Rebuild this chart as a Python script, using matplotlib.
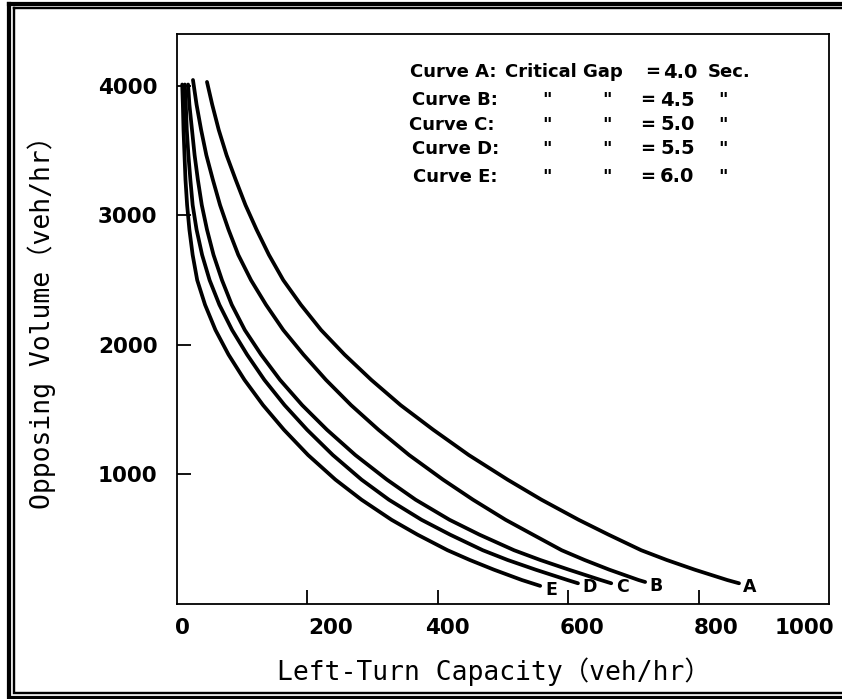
import matplotlib
matplotlib.use("Agg")
import matplotlib.pyplot as plt
from matplotlib.lines import Line2D

# ---------------- data ----------------
curve_names = ["A", "B", "C", "D", "E"]
critical_gaps = ["4.0", "4.5", "5.0", "5.5", "6.0"]

cap_A = [46, 54, 64, 76, 90, 105, 122, 141, 163, 190, 221, 257, 298, 343, 393,
         447.5, 507, 559, 616, 662, 712, 751, 794, 844, 862]
vol_A = [4030, 3855, 3660, 3465, 3275, 3080, 2890, 2695, 2500, 2310, 2115,
         1925, 1730, 1535, 1345, 1150, 960, 805, 650, 535, 415, 340, 265, 185,
         160]

cap_B = [24.5, 30, 37, 45, 55, 66, 79, 94, 113.5, 136.5, 163, 194, 228.5, 267,
         309, 356, 408, 454, 504, 546, 590, 625, 663, 708, 718]
vol_B = [4045, 3855, 3660, 3465, 3275, 3080, 2890, 2695, 2500, 2310, 2115,
         1925, 1730, 1535, 1345, 1150, 960, 805, 650, 535, 415, 340, 265, 185,
         170]

cap_C = [17, 19, 23, 27, 32, 38, 46, 56, 69, 84, 104, 129, 158, 192, 230,
         273.5, 322, 366, 418, 464, 517, 557, 601, 650, 666]
vol_C = [4010, 3855, 3660, 3465, 3275, 3080, 2890, 2695, 2500, 2310, 2115,
         1925, 1730, 1535, 1345, 1150, 960, 805, 650, 535, 415, 340, 265, 185,
         160]

cap_D = [12, 13.5, 15, 17.5, 20.5, 24, 30, 38.5, 50, 65, 84.5, 107.5, 134, 165,
         199.5, 239, 283, 325, 375, 419, 469, 507, 550, 599, 615]
vol_D = [4010, 3855, 3660, 3465, 3275, 3080, 2890, 2695, 2500, 2310, 2115,
         1925, 1730, 1535, 1345, 1150, 960, 805, 650, 535, 415, 340, 265, 185,
         160]

cap_E = [8, 9, 10, 11.5, 13, 15.5, 19, 24, 31, 43, 59, 79, 103.5, 132, 164,
         201, 243, 283, 329, 369, 415, 449, 486, 529, 557]
vol_E = [4010, 3855, 3660, 3465, 3275, 3080, 2890, 2695, 2500, 2310, 2115,
         1925, 1730, 1535, 1345, 1150, 960, 805, 650, 535, 415, 340, 265, 185,
         140]

x_tick_values = [200, 400, 600, 800]
x_tick_labels = ["0", "200", "400", "600", "800", "1000"]
y_tick_values = [1000, 2000, 3000, 4000]
y_tick_labels = ["1000", "2000", "3000", "4000"]

# ---------------- layout ----------------
W, H = 842, 699
# where the (scanned, slightly offset) x tick labels sit, in data units
x_label_pos = [8, 236, 414, 621, 827, 962]

def fx(px):
    return px / W

def fy(py):
    return 1 - py / H

fig = plt.figure(figsize=(W / 100, H / 100), dpi=100)
fig.patch.set_facecolor("white")

ax = fig.add_axes([fx(177), fy(604), (829 - 177) / W, (604 - 34) / H])
ax.set_xlim(0, 1000)
ax.set_ylim(0, 4400)

for s in ax.spines.values():
    s.set_linewidth(1.3)
    s.set_color("black")

ax.set_xticks(x_tick_values)
ax.set_xticklabels([])
ax.set_yticks(y_tick_values)
ax.set_yticklabels(y_tick_labels, fontsize=15.5, fontweight="bold",
                   family="DejaVu Sans")
ax.tick_params(axis="both", direction="in", length=10, width=1.3,
               colors="black")
ax.tick_params(axis="y", pad=14)

for lab, pos in zip(x_tick_labels, x_label_pos):
    ax.text(pos, -0.042, lab, transform=ax.get_xaxis_transform(),
            ha="center", va="center", fontsize=15.5, fontweight="bold",
            family="DejaVu Sans")

series = [(cap_A, vol_A), (cap_B, vol_B), (cap_C, vol_C),
          (cap_D, vol_D), (cap_E, vol_E)]
for name, (xs, ys) in zip(curve_names, series):
    ax.plot(xs, ys, color="black", lw=2.7, solid_capstyle="round",
            solid_joinstyle="round")
    ax.annotate(name, xy=(xs[-1], ys[-1]), xytext=(8, -3),
                textcoords="offset points", ha="center", va="center",
                fontsize=12.5, fontweight="bold", family="DejaVu Sans")

# axis titles (monospace gothic look with full-width parentheses)
mono = ["DejaVu Sans Mono", "Noto Sans CJK JP"]
fig.text(fx(494), fy(672), "Left-Turn Capacity（veh/hr）", ha="center",
         va="center", fontsize=19, family=mono)
fig.text(fx(42), fy(316), "Opposing Volume（veh/hr）", ha="center",
         va="center", fontsize=19, family=mono, rotation=90)

# legend-like text block
tb = dict(fontsize=13, fontweight="bold", family="DejaVu Sans",
          va="center")
rows_y = [72, 100, 125, 149, 177]
rows_x = [410, 412, 409, 412, 413]
for i, (name, gap) in enumerate(zip(curve_names, critical_gaps)):
    y = rows_y[i]
    fig.text(fx(rows_x[i]), fy(y), f"Curve {name}:", ha="left", **tb)
    if i == 0:
        fig.text(fx(505), fy(y), "Critical Gap", ha="left", **tb)
        fig.text(fx(653), fy(y), "=", ha="center", **tb)
        fig.text(fx(663), fy(y), gap, ha="left", fontsize=14,
                 fontweight="bold", family="DejaVu Sans", va="center")
        fig.text(fx(708), fy(y), "Sec.", ha="left", **tb)
    else:
        fig.text(fx(547), fy(y), "\"", ha="center", **tb)
        fig.text(fx(607), fy(y), "\"", ha="center", **tb)
        fig.text(fx(648), fy(y), "=", ha="center", **tb)
        fig.text(fx(660), fy(y), gap, ha="left", fontsize=14,
                 fontweight="bold", family="DejaVu Sans", va="center")
        fig.text(fx(723), fy(y), "\"", ha="center", **tb)

# double frame around the scanned figure
def frame(x0, y0, x1, y1, lw_px):
    lw = lw_px * 72 / 100
    pts = [(x0, y0), (x0, y1), (x1, y1), (x1, y0), (x0, y0)]
    fig.add_artist(Line2D([fx(p[0]) for p in pts], [fy(p[1]) for p in pts],
                          transform=fig.transFigure, color="black", lw=lw,
                          solid_joinstyle="miter"))

frame(9, 4, 860, 698, 4.2)
frame(14, 8, 855, 693, 2.4)

fig.savefig("out.png", dpi=100, facecolor="white")
